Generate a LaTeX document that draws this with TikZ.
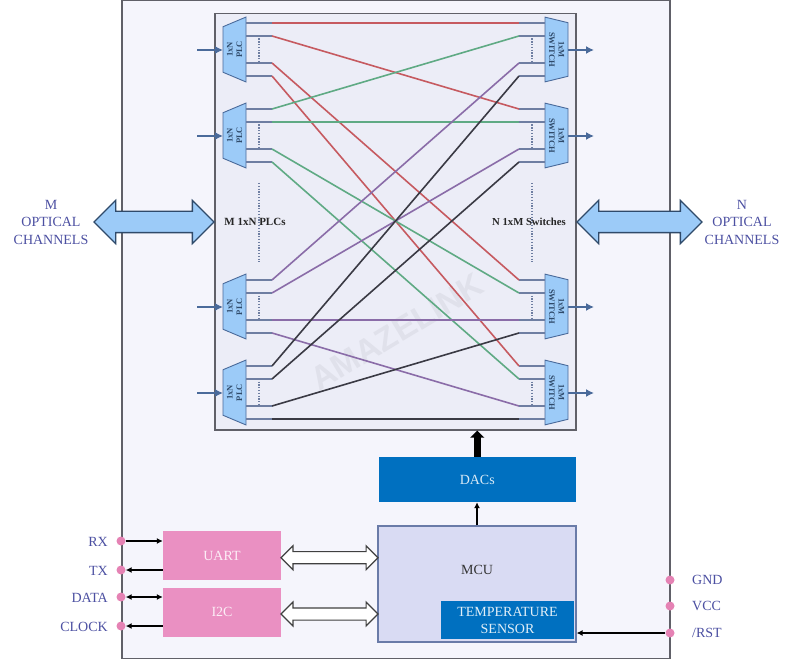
\documentclass[tikz,border=0pt]{standalone}
\usepackage{fontspec}
\setmainfont{Liberation Serif}
\newfontfamily\marksans{Liberation Sans}
\usepackage{xcolor}
\usetikzlibrary{arrows.meta,positioning,shapes.geometric,shapes.arrows}
\definecolor{outerfill}{HTML}{F5F5FC}
\definecolor{innerfill}{HTML}{ECEDF7}
\definecolor{framegray}{HTML}{606068}
\definecolor{portblue}{HTML}{9CCBF8}
\definecolor{portline}{HTML}{4A6A9A}
\definecolor{stubgray}{HTML}{6E7EA2}
\definecolor{linered}{HTML}{C65A60}
\definecolor{linegreen}{HTML}{5FAA84}
\definecolor{linepurple}{HTML}{8A6CA8}
\definecolor{lineblack}{HTML}{3A3A44}
\definecolor{labelblue}{HTML}{4C50A2}
\definecolor{dacblue}{HTML}{0070C0}
\definecolor{mcufill}{HTML}{D9DBF3}
\definecolor{mculine}{HTML}{6A7BA8}
\definecolor{pinpink}{HTML}{E582B4}
\definecolor{busfill}{HTML}{EA90C2}
\definecolor{arrowline}{HTML}{2F4A6A}
\tikzset{
  plcbox/.style={trapezium,trapezium angle=76.6,trapezium stretches=true,
    minimum width=65pt,minimum height=23pt,inner sep=0pt,draw=portline,
    line width=0.9pt,fill=portblue,align=center,text=arrowline,
    font=\bfseries\fontsize{8.5}{9.5}\selectfont},
  stub/.style={stubgray,line width=1.6pt},
  cross/.style={line width=1.6pt},
  dotline/.style={stubgray,line width=1.3pt,dash pattern=on 1.3pt off 1.5pt},
  portarrow/.style={portline,line width=1.5pt,-{Latex[length=8pt,width=8pt]}},
  bigarrow/.style={double arrow,double arrow head extend=11pt,
    double arrow tip angle=90,inner sep=10pt,
    draw=arrowline,line width=1.3pt,fill=portblue},
  busarrow/.style={double arrow,double arrow head extend=5.8pt,
    double arrow tip angle=90,inner sep=5.5pt,
    draw=black!75,line width=1.2pt,fill=white},
  pin/.style={circle,fill=pinpink,minimum size=9pt,inner sep=0pt},
  pinlabel/.style={text=labelblue,font=\fontsize{14}{14}\selectfont,inner sep=0pt},
  chanlabel/.style={text=labelblue,align=center,font=\fontsize{14}{17.5}\selectfont},
  busbox/.style={fill=busfill,text=white!85!busfill,minimum width=118pt,
    minimum height=49pt,inner sep=0pt,font=\fontsize{14}{14}\selectfont},
  sig/.style={black,line width=1.8pt,>={Latex[length=6pt,width=6pt]}},
}
\begin{document}
\begin{tikzpicture}[x=1pt,y=-1pt]
\useasboundingbox (0,0) rectangle (800,660);
\fill[white] (0,0) rectangle (800,660);
\draw[framegray,line width=1.2pt,fill=outerfill] (122,0) rectangle (670,658.5);
\node[draw=framegray,line width=1.4pt,fill=innerfill,minimum width=361pt,
  minimum height=416.5pt,inner sep=0pt] (matrixbox) at (395.5,221.75) {};
%%the watermark
\node[rotate=31,text=black!5!innerfill,font=\marksans\bfseries\fontsize{33}{33}\selectfont]
  (mark) at (397,332) {AMAZELINK};
%%the PLCs and the switches
\foreach \i/\cy in {1/50,2/136,3/307,4/393}{
  \node[plcbox,rotate=90] (plc\i) at (234.5,\cy-0.5) {1xN\\PLC};
  \node[plcbox,rotate=-90] (sw\i) at (556.5,\cy-0.5) {1xM\\SWITCH};
  \coordinate (in\i) at (197,\cy);
  \coordinate (out\i) at (594,\cy);
  \draw[portarrow] (in\i) -- (223,\cy);
  \draw[portarrow] (568,\cy) -- (out\i);
  \draw[dotline] (259,\cy-11.5) -- (259,\cy+11.5);
  \draw[dotline] (532,\cy-11.5) -- (532,\cy+11.5);
  \foreach \p/\dy in {1/-27,2/-14,3/13,4/26}{
    \coordinate (plc\i-\p) at (272,\cy+\dy);
    \coordinate (sw\i-\p) at (519,\cy+\dy);
    \draw[stub] (246,\cy+\dy) -- (plc\i-\p);
    \draw[stub] (sw\i-\p) -- (545,\cy+\dy);
  }
}
%%the cross connections
\foreach \i/\col in {1/linered,2/linegreen,3/linepurple,4/lineblack}{
  \foreach \j in {1,2,3,4}{
    \draw[cross,\col] (plc\i-\j) -- (sw\j-\i);
  }
}
\draw[dotline] (259,183) -- (259,262);
\draw[dotline] (532,183) -- (532,262);
\node[font=\bfseries\fontsize{11}{11}\selectfont,text=black!85] (plctext) at (255,222) {M 1xN PLCs};
\node[font=\bfseries\fontsize{10.7}{11}\selectfont,text=black!85] (swtext) at (529,222) {N 1xM Switches};
%%the optical channels
\node[bigarrow,minimum height=120pt] (marrow) at (154,222) {};
\node[bigarrow,minimum height=125pt] (narrow) at (639.5,222) {};
\node[chanlabel] (mtext) at (51,222) {M\\OPTICAL\\CHANNELS};
\node[chanlabel] (ntext) at (742,222) {N\\OPTICAL\\CHANNELS};
%%the lower blocks
\node[fill=dacblue,text=white!85!dacblue,minimum width=197pt,minimum height=45pt,
  inner sep=0pt,font=\fontsize{14}{14}\selectfont] (dac) at (477.25,479.5) {DACs};
\node[draw=mculine,line width=1.1pt,fill=mcufill,minimum width=198pt,minimum height=116pt,
  inner sep=0pt] (mcu) at (477,584) {};
\node[text=black!80,font=\fontsize{14}{14}\selectfont,inner sep=0pt] (mcutext) at (477,570) {MCU};
\node[fill=dacblue,text=white!88!dacblue,minimum width=133pt,minimum height=38pt,inner sep=0pt,
  align=center,font=\fontsize{14}{17}\selectfont] (sensor) at (507.5,620) {TEMPERATURE\\SENSOR};
\node[busbox] (uart) at (222,555.5) {UART};
\node[busbox] (itc) at (222,612) {I2C};
\node[busarrow,minimum height=97pt] (uartbus) at (329.5,557.7) {};
\node[busarrow,minimum height=97pt] (itcbus) at (329.5,614) {};
\draw[black,line width=7pt,-{Triangle[length=7pt,width=14pt]}] (dac.north) -- (dac.north |- matrixbox.south);
\draw[sig,->] (mcu.north) -- (mcu.north |- dac.south);
%%the pins
\foreach \name/\yy/\txt in {rx/541/RX,tx/570/TX,data/597/DATA,clock/626/CLOCK}{
  \node[pin] (\name) at (121,\yy) {};
  \node[pinlabel,anchor=east] (\name text) at (108,\yy+1) {\txt};
}
\foreach \name/\yy/\txt in {gnd/580/GND,vcc/606/VCC,rst/633/{/RST}}{
  \node[pin] (\name) at (670,\yy) {};
  \node[pinlabel,anchor=west] (\name text) at (692,\yy) {\txt};
}
\draw[sig,->] (rx) -- (rx -| uart.west);
\draw[sig,<-] (tx) -- (tx -| uart.west);
\draw[sig,<->] (data) -- (data -| itc.west);
\draw[sig,<-] (clock) -- (clock -| itc.west);
\draw[sig,->] (rst) -- (rst -| mcu.east);
\end{tikzpicture}
\end{document}
